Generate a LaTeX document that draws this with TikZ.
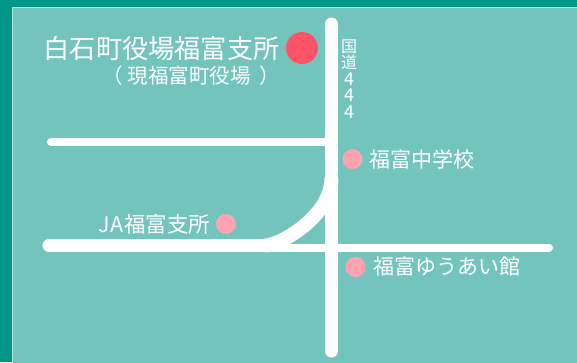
\documentclass[tikz,border=0pt]{standalone}
\usepackage{fontspec}
\newfontfamily\cjk{Noto Sans CJK JP}
\definecolor{outerteal}{HTML}{009688}
\definecolor{innerteal}{HTML}{74C4BE}
\definecolor{edgeteal}{HTML}{B2DFDB}
\definecolor{bigred}{HTML}{FF5468}
\definecolor{softpink}{HTML}{FFA3B0}
\tikzset{
  road/.style={draw=white,line width=#1,line cap=round},
  spot/.style={circle,fill=softpink,draw=none,minimum size=20pt,inner sep=0pt},
  lbl/.style={text=white,inner sep=0pt,font=\cjk\fontsize{#1}{#1}\selectfont,anchor=west}
}
\begin{document}
\begin{tikzpicture}[x=1pt,y=-1pt]
\useasboundingbox (0,0) rectangle (577,362);
\fill[outerteal] (0,0) rectangle (577,362);
\fill[innerteal,draw=edgeteal,line width=1pt] (12,7.5) rectangle (590,375);
\clip (0,0) rectangle (577,362);
% road anchors
\coordinate (vtop) at (331.5,24);
\coordinate (vbot) at (331.5,351);
\coordinate (upL) at (51,141.5);
\coordinate (upR) at (331.5,141.5);
\coordinate (lowL) at (49,245.5);
\coordinate (lowM) at (265,245.5);
\coordinate (curveTop) at (331.5,178);
\coordinate (thinL) at (265,247.5);
\coordinate (thinR) at (549,247.5);
% roads
\draw[road=8pt] (upL) -- (upR);
\draw[road=8pt] (thinL) -- (thinR);
\draw[road=13pt] (vtop) -- (vbot);
\draw[road=14pt,line cap=butt] (lowM) .. controls (280,245.5) and (331.5,216) .. (curveTop);
\draw[road=13pt] (lowL) -- (lowM);
% places
\node[circle,fill=bigred,minimum size=32pt,inner sep=0pt] (town) at (302,48) {};
\node[spot] (school) at (352.5,159) {};
\node[spot] (hall) at (355.5,267) {};
\node[spot] (ja) at (226,224) {};
% labels
\node[lbl=26.2pt] (townT) at (43.5,49) {白石町役場福富支所};
\node[lbl=20.5pt] (townS) at (102,76) {（\hspace{5pt}現福富町役場\hspace{9pt}）};
\node[lbl=21pt] (schoolT) at (369.5,159) {福富中学校};
\node[lbl=21pt] (hallT) at (373,267) {福富ゆうあい館};
\node[lbl=21.5pt,anchor=east] (jaT) at (210.5,224) {J\hspace{0.5pt}A\hspace{0.5pt}福富支所};
\node[text=white,inner sep=0pt,align=center,font=\cjk\fontsize{16}{16.5}\selectfont] (route) at (349,79) {国\\道\\{\fontsize{18}{16.5}\selectfont 4}\\{\fontsize{18}{16.5}\selectfont 4}\\{\fontsize{18}{16.5}\selectfont 4}};
\end{tikzpicture}
\end{document}
